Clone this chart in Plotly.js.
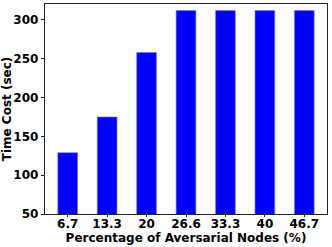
<!DOCTYPE html>
<html><head><meta charset="utf-8">
<script src="https://cdn.plot.ly/plotly-3.0.1.min.js"></script>
<style>html,body{margin:0;padding:0;background:#fff}#c{width:332px;height:247px}</style>
</head><body><div id="c"></div>
<script>
var categories = ["6.7","13.3","20","26.6","33.3","40","46.7"];
var timeCost = [129, 175, 258, 312, 312, 312, 312];
var yTicks = [50,100,150,200,250,300];

var tickFont = {family:"DejaVu Sans", size:12, color:"#000", weight:"bold"};
var titleFont = {family:"DejaVu Sans", size:12, color:"#000", weight:"bold"};
Plotly.newPlot("c", [{
  type:"bar", x:categories, y:timeCost,
  marker:{color:"#0000ff", line:{color:"#7070ff", width:0.6}},
  hoverinfo:"none"
}], {
  width:332, height:247,
  margin:{l:45, r:5, t:4, b:33},
  paper_bgcolor:"#fff", plot_bgcolor:"#fff",
  bargap:0.5,
  showlegend:false,
  font:tickFont,
  xaxis:{type:"category", range:[-0.575,6.575], showline:true, mirror:true, linecolor:"#222", linewidth:1.2,
    ticks:"outside", ticklen:2, tickcolor:"#222", tickfont:tickFont, showgrid:false, zeroline:false,
    ticklabelstandoff:-4,
    title:{text:"Percentage of Aversarial Nodes (%)", font:titleFont, standoff:0}},
  yaxis:{range:[50,320.5], tickvals:yTicks, showline:true, mirror:true, linecolor:"#222", linewidth:1.2,
    ticks:"outside", ticklen:3, tickcolor:"#222", tickfont:tickFont, showgrid:false, zeroline:false,
    title:{text:"Time Cost (sec)", font:titleFont, standoff:3}}
}, {staticPlot:true});
</script></body></html>
